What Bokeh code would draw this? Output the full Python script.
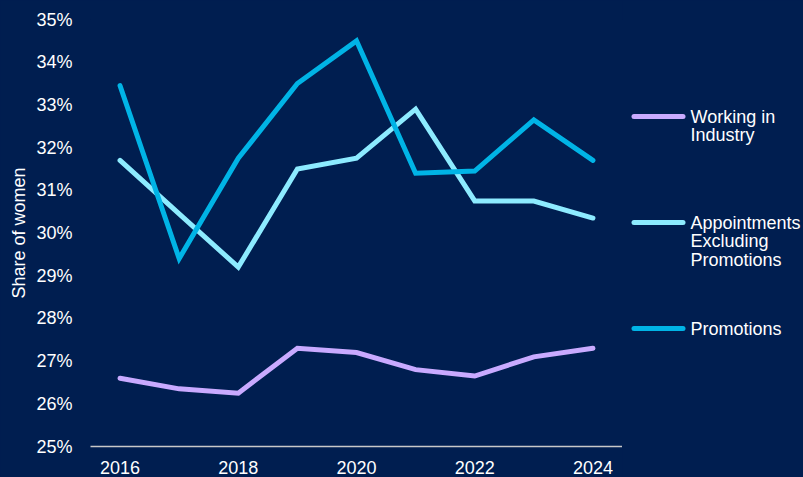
from bokeh.plotting import figure
from bokeh.layouts import row
from bokeh.models import FixedTicker, PrintfTickFormatter, ColumnDataSource
from bokeh.core.properties import value
from bokeh.embed import file_html
from bokeh.resources import INLINE

# ---- data ----
years = [2016, 2017, 2018, 2019, 2020, 2021, 2022, 2023, 2024]
working_in_industry = [26.6, 26.35, 26.25, 27.3, 27.2, 26.8, 26.65, 27.1, 27.3]
appointments_excl_promotions = [31.7, 30.45, 29.2, 31.5, 31.75, 32.9, 30.75, 30.75, 30.35]
promotions = [33.45, 29.4, 31.75, 33.5, 34.5, 31.4, 31.45, 32.65, 31.7]

series_labels = ["Working in\nIndustry", "Appointments\nExcluding\nPromotions", "Promotions"]
y_ticks = [25, 26, 27, 28, 29, 30, 31, 32, 33, 34, 35]
x_ticks = [2016, 2018, 2020, 2022, 2024]
y_axis_title = "Share of women"

# ---- styles ----
BG = "#001E50"
COLORS = ["#C9AAFF", "#8DEBFF", "#00B4E6"]
FONT = "Liberation Sans"
FS = "18px"
FRAME_TOP, FRAME_H, BOTTOM = 19, 427, 31

p = figure(frame_width=532, frame_height=FRAME_H, x_range=(2015.5, 2024.5), y_range=(25, 35),
           output_backend="svg", toolbar_location=None,
           min_border_left=90, min_border_right=0, min_border_top=FRAME_TOP,
           min_border_bottom=BOTTOM)
p.background_fill_color = BG
p.border_fill_color = BG
p.outline_line_color = None
p.xgrid.grid_line_color = None
p.ygrid.grid_line_color = None

series = [working_in_industry, appointments_excl_promotions, promotions]
for vals, col in zip(series, COLORS):
    p.line(years, vals, line_color=col, line_width=5, line_cap="round", line_join="miter")

p.yaxis.ticker = FixedTicker(ticks=y_ticks)
p.yaxis.formatter = PrintfTickFormatter(format="%d%%")
p.yaxis.axis_line_color = None
p.yaxis.major_tick_line_color = None
p.yaxis.minor_tick_line_color = None
p.yaxis.major_label_standoff = 12
p.yaxis.axis_label = y_axis_title
p.yaxis.axis_label_standoff = 4
p.yaxis.axis_label_text_font = FONT
p.yaxis.axis_label_text_font_size = FS
p.yaxis.axis_label_text_font_style = "normal"
p.yaxis.axis_label_text_color = "white"

p.xaxis.ticker = FixedTicker(ticks=x_ticks)
p.xaxis.axis_line_color = "#C8C8C8"
p.xaxis.axis_line_width = 1.5
p.xaxis.major_tick_line_color = None
p.xaxis.minor_tick_line_color = None
p.xaxis.major_label_standoff = 8

for ax in (p.xaxis, p.yaxis):
    ax.major_label_text_font = FONT
    ax.major_label_text_font_size = FS
    ax.major_label_text_color = "white"

# ---- legend panel (frame aligned with the main plot frame; units = screen pixels) ----
lg = figure(frame_width=181, frame_height=FRAME_H, x_range=(0, 181),
            y_range=(FRAME_TOP + FRAME_H, FRAME_TOP),
            output_backend="svg", toolbar_location=None,
            min_border=0, min_border_top=FRAME_TOP, min_border_bottom=BOTTOM,
            x_axis_type=None, y_axis_type=None)
lg.background_fill_color = BG
lg.border_fill_color = BG
lg.outline_line_color = None
lg.xgrid.grid_line_color = None
lg.ygrid.grid_line_color = None

n = len(series_labels)
ly = [116 + 106 * i for i in range(n)]
src = ColumnDataSource(dict(x0=[11.5] * n, x1=[60.5] * n, y=ly, c=COLORS,
                            tx=[68] * n, ty=[v - 10 for v in ly], t=series_labels))
lg.segment(x0="x0", y0="y", x1="x1", y1="y", line_color="c", line_width=5,
           line_cap="round", source=src)
lg.text(x="tx", y="ty", text="t", source=src, text_font=value(FONT), text_font_size=FS,
        text_color="white", text_baseline="top", text_align="left", text_line_height=0.93)

layout = row(p, lg, spacing=0)
html = file_html(layout, INLINE)
html = html.replace("<head>", "<head><style>html,body{margin:0;padding:0;background:#001E50;overflow:hidden;}</style>", 1)
open("out.html", "w").write(html)
